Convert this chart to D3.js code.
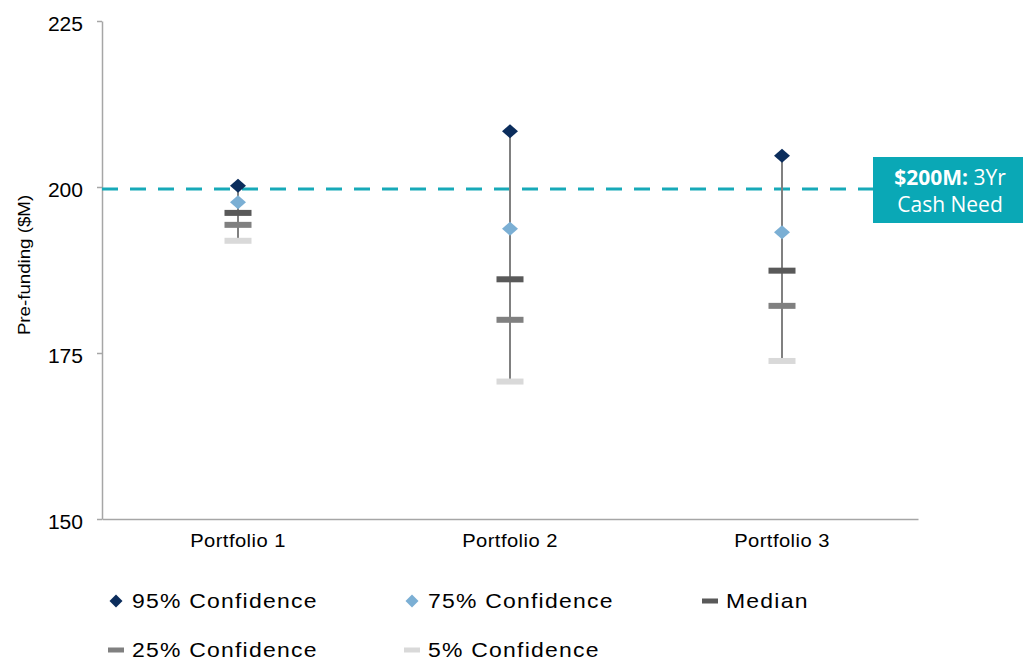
<!DOCTYPE html>
<html>
<head>
<meta charset="utf-8">
<script src="https://cdn.jsdelivr.net/npm/d3@7"></script>
<style>
  body { margin: 0; background: #fff; }
  text { font-family: "Liberation Sans", Arial, sans-serif; }
</style>
</head>
<body>
<div id="chart"></div>
<script>
const portfolios = ["Portfolio 1", "Portfolio 2", "Portfolio 3"];
const conf95 = [200.2, 208.4, 204.7];
const conf75 = [197.7, 193.7, 193.2];
const median = [196.1, 186.1, 187.4];
const conf25 = [194.3, 180.0, 182.1];
const conf5 = [191.9, 170.7, 173.8];
const yTicks = [150, 175, 200, 225];
const cashNeed = 199.7;

const margin = { top: 21, right: 110, bottom: 143, left: 102 };
const width = 1028 - margin.left - margin.right;
const height = 662 - margin.top - margin.bottom;

const svg = d3.select("#chart")
    .append("svg")
    .attr("width", 1028)
    .attr("height", 662);

const g = svg.append("g")
    .attr("transform", `translate(${margin.left},${margin.top})`);

const x = d3.scaleBand()
    .domain(portfolios)
    .range([0, width]);

const y = d3.scaleLinear()
    .domain([150, 225])
    .range([height, 0]);

// text in the original is drawn a little wide
function widen(sel, sx) {
    sel.each(function() {
        const t = d3.select(this);
        const tx = +t.attr("x") || 0;
        const ty = +t.attr("y") || 0;
        t.attr("x", 0).attr("y", 0)
            .attr("transform", `translate(${tx},${ty}) scale(${sx},1)`);
    });
}

// axes
const yAxis = g.append("g")
    .call(d3.axisLeft(y).tickValues(yTicks).tickSize(5).tickSizeOuter(0).tickPadding(14));
yAxis.selectAll("text").attr("font-size", 19.5).attr("fill", "#000").attr("dy", "0.5em");
widen(yAxis.selectAll("text"), 1.08);
yAxis.selectAll("line, path").attr("stroke", "#a6a6a6").attr("stroke-width", 1.5);

const xAxis = g.append("g")
    .attr("transform", `translate(0,${height})`)
    .call(d3.axisBottom(x).tickSize(0).tickPadding(15));
xAxis.selectAll("text").attr("font-size", 18).attr("fill", "#000").attr("letter-spacing", 0.4);
widen(xAxis.selectAll("text"), 1.12);
xAxis.select("path").attr("stroke", "#a6a6a6").attr("stroke-width", 1.5);

svg.append("text")
    .attr("transform", `translate(30,265) rotate(-90) scale(1.1,1)`)
    .attr("text-anchor", "middle")
    .attr("font-size", 17)
    .text("Pre-funding ($M)");

// cash need line
g.append("line")
    .attr("x1", 0)
    .attr("x2", 771)
    .attr("y1", y(cashNeed))
    .attr("y2", y(cashNeed))
    .attr("stroke", "#17a9b8")
    .attr("stroke-width", 3)
    .attr("stroke-dasharray", "16,12");

const rows = portfolios.map((p, i) => ({
    p, c95: conf95[i], c75: conf75[i], med: median[i], c25: conf25[i], c5: conf5[i]
}));

const cx = d => x(d.p) + x.bandwidth() / 2;

// whiskers
g.selectAll(".whisker")
    .data(rows)
    .enter().append("line")
    .attr("class", "whisker")
    .attr("x1", cx).attr("x2", cx)
    .attr("y1", d => y(d.c95))
    .attr("y2", d => y(d.c5))
    .attr("stroke", "#808080")
    .attr("stroke-width", 2);

const dashes = [
    { key: "c5", color: "#d9d9d9" },
    { key: "c25", color: "#808080" },
    { key: "med", color: "#595959" }
];
dashes.forEach(s => {
    g.selectAll(".m-" + s.key)
        .data(rows)
        .enter().append("rect")
        .attr("x", d => cx(d) - 13.5)
        .attr("y", d => y(d[s.key]) - 3)
        .attr("width", 27)
        .attr("height", 6)
        .attr("fill", s.color);
});

// slightly squat diamond like the original markers
const diamondPath = (w, h) => `M0,${-h / 2}L${w / 2},0L0,${h / 2}L${-w / 2},0Z`;
[{ key: "c75", color: "#7bafd4" }, { key: "c95", color: "#0b2d5c" }].forEach(s => {
    g.selectAll(".d-" + s.key)
        .data(rows)
        .enter().append("path")
        .attr("d", diamondPath(16, 14))
        .attr("transform", d => `translate(${cx(d)},${y(d[s.key])})`)
        .attr("fill", s.color);
});

// annotation box
const box = svg.append("g").attr("transform", "translate(873,157)");
box.append("rect").attr("width", 150).attr("height", 66).attr("fill", "#0aa8b6");
const t1 = box.append("text")
    .attr("x", 77).attr("y", 28)
    .attr("text-anchor", "middle")
    .attr("fill", "#fff")
    .attr("font-size", 21)
    .style("font-family", "'Open Sans', sans-serif");
t1.append("tspan").attr("font-weight", "bold").text("$200M:");
t1.append("tspan").text(" 3Yr");
box.append("text")
    .attr("x", 77).attr("y", 55)
    .attr("text-anchor", "middle")
    .attr("fill", "#fff")
    .attr("font-size", 21)
    .style("font-family", "'Open Sans', sans-serif")
    .text("Cash Need");

// legend
const legendItems = [
    { label: "95% Confidence", type: "diamond", color: "#0b2d5c", x: 116, y: 601 },
    { label: "75% Confidence", type: "diamond", color: "#7bafd4", x: 412, y: 601 },
    { label: "Median", type: "dash", color: "#595959", x: 710, y: 601 },
    { label: "25% Confidence", type: "dash", color: "#808080", x: 116, y: 650 },
    { label: "5% Confidence", type: "dash", color: "#d9d9d9", x: 412, y: 650 }
];
const leg = svg.selectAll(".legend")
    .data(legendItems)
    .enter().append("g")
    .attr("transform", d => `translate(${d.x},${d.y})`);
leg.filter(d => d.type === "diamond").append("path")
    .attr("d", diamondPath(13, 13))
    .attr("fill", d => d.color);
leg.filter(d => d.type === "dash").append("rect")
    .attr("x", -8).attr("y", -2.5).attr("width", 16).attr("height", 5)
    .attr("fill", d => d.color);
leg.append("text")
    .attr("transform", "translate(16,7) scale(1.12,1)")
    .attr("font-size", 20.5)
    .attr("letter-spacing", 1.1)
    .text(d => d.label);
</script>
</body>
</html>
